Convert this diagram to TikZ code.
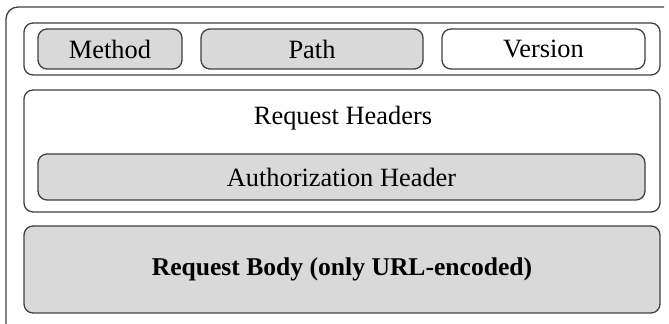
\documentclass[tikz,border=0pt]{standalone}
\usepackage{fontspec}
\setmainfont{Liberation Serif}
\begin{document}
\begin{tikzpicture}[x=0.5pt,y=-0.5pt,
  box/.style={draw=black!75,line width=0.65pt,rounded corners=4.5pt,inner sep=0pt,outer sep=0pt,font=\fontsize{13.2pt}{15pt}\selectfont},
  graybox/.style={box,fill=black!15},
  whitebox/.style={box,fill=white}]
\useasboundingbox (0,0) rectangle (669,324);
\draw[black!75,line width=0.65pt,rounded corners=6pt] (6,324) -- (6,7) -- (664,7);
% row 1
\node[whitebox,minimum width=318pt,minimum height=26pt] (row) at (342,49) {};
\node[graybox,minimum width=72pt,minimum height=20pt] (method) at (110,49) {Method};
\node[graybox,minimum width=111pt,minimum height=20pt] (path) at (312,49) {Path};
\node[whitebox,minimum width=101.5pt,minimum height=20pt] (version) at (543.5,49) {Version};
% headers
\node[whitebox,minimum width=318pt,minimum height=61pt] (headers) at (342,151) {};
\node[inner sep=0pt,font=\fontsize{13.2pt}{15pt}\selectfont] (hlabel) at (343,118) {Request Headers};
\node[graybox,minimum width=303.5pt,minimum height=23pt] (auth) at (341.5,177) {Authorization Header};
% body
\node[graybox,minimum width=318pt,minimum height=43.5pt,font=\fontsize{12.8pt}{15pt}\selectfont\bfseries] (body) at (342,269.5) {Request Body (only URL-encoded)};
\end{tikzpicture}
\end{document}
